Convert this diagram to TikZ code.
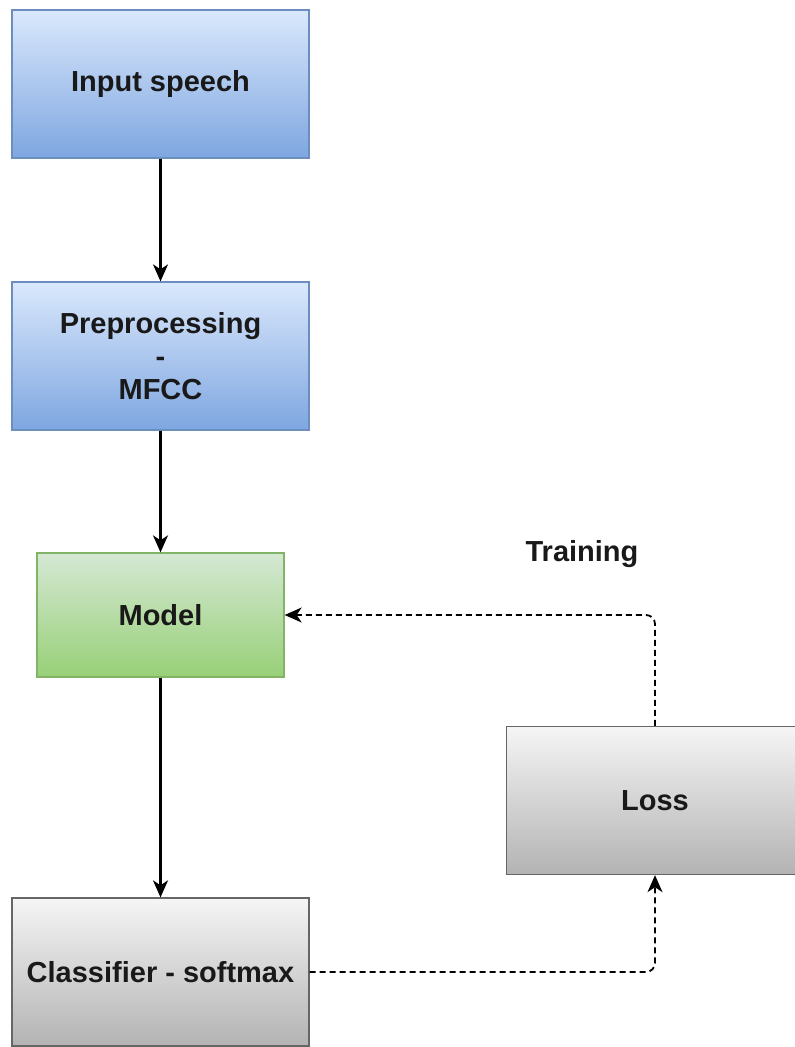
\documentclass[tikz,border=0pt]{standalone}
\usepackage{fontspec}
\setmainfont{Liberation Sans}
\usetikzlibrary{arrows.meta}
\definecolor{blueT}{HTML}{DAE8FC}
\definecolor{blueB}{HTML}{7EA6E0}
\definecolor{blueD}{HTML}{6C8EBF}
\definecolor{greenT}{HTML}{D5E8D4}
\definecolor{greenB}{HTML}{97D077}
\definecolor{greenD}{HTML}{82B366}
\definecolor{grayT}{HTML}{F5F5F5}
\definecolor{grayB}{HTML}{B3B3B3}
\definecolor{grayD}{HTML}{666666}
\tikzset{
  lbl/.style={font=\fontsize{29}{33}\selectfont\bfseries, text=black!90},
  box/.style={rectangle, line width=1.3pt, minimum width=297pt, minimum height=148pt, inner sep=0pt,
    align=center, lbl},
  bluebox/.style={box, draw=blueD, top color=blueT, bottom color=blueB},
  greenbox/.style={box, draw=greenD, top color=greenT, bottom color=greenB, minimum width=247pt, minimum height=124pt},
  graybox/.style={box, draw=grayD, top color=grayT, bottom color=grayB},
  flow/.style={line width=2.2pt, -{Stealth[length=17pt,width=15pt,inset=5pt]}},
  dflow/.style={line width=1.8pt, dash pattern=on 6pt off 4pt, rounded corners=9pt, -{Stealth[length=17pt,width=15pt,inset=5pt]}},
}
\begin{document}
\begin{tikzpicture}[x=1pt,y=-1pt]
\useasboundingbox (0,0) rectangle (795,1047);
\node[bluebox] (inp) at (160.5,84) {Input speech};
\node[bluebox] (pre) at (160.5,356) {Preprocessing\\-\\MFCC};
\node[greenbox] (mod) at (160.5,615) {Model};
\node[graybox] (cls) at (160.5,972) {Classifier - softmax};
\node[graybox] (loss) at (655,800.5) {Loss};
\node[lbl] (train) at (582,554) {Training};
\draw[flow] (inp) -- (pre);
\draw[flow] (pre) -- (mod);
\draw[flow] (mod) -- (cls);
\draw[dflow] (cls.east) -| (loss.south);
\draw[dflow] (loss.north) |- (mod.east);
\end{tikzpicture}
\end{document}
